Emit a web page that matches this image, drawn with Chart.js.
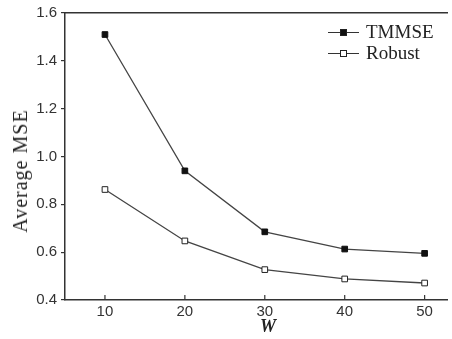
<!DOCTYPE html>
<html><head><meta charset="utf-8">
<script src="https://cdn.jsdelivr.net/npm/chart.js@4.4.0/dist/chart.umd.min.js"></script>
<style>
html,body{margin:0;padding:0;background:#fff;overflow:hidden}
#wrap{position:relative;width:452px;height:339px}
#c{position:absolute;left:0;top:0}
.yt{position:absolute;left:20px;top:171px;transform:translate(-50%,-50%) rotate(-90deg);font-family:"Liberation Serif",serif;font-size:20px;letter-spacing:1px;color:#222;white-space:nowrap;line-height:20px}
.xt{position:absolute;left:268px;top:326px;transform:translate(-50%,-50%);font-family:"Liberation Serif",serif;font-size:18px;font-weight:bold;font-style:italic;color:#222;line-height:18px}
.lg{position:absolute;left:328px;font-family:"Liberation Serif",serif;font-size:19px;color:#222;line-height:20px;height:20px}
.lg .ln{position:absolute;left:0;top:10px;width:31px;height:0;border-top:1.3px solid #333}
.lg .mk{position:absolute;left:12px;top:7px;width:5px;height:5px;border:1px solid #222}
.lg .tx{position:absolute;left:38px;top:0;white-space:nowrap}
</style></head>
<body><div id="wrap"><canvas id="c" width="452" height="339"></canvas>
<div class="yt">Average MSE</div>
<div class="xt">W</div>
<div class="lg" style="top:22px"><span class="ln"></span><span class="mk" style="background:#111"></span><span class="tx">TMMSE</span></div>
<div class="lg" style="top:43px"><span class="ln"></span><span class="mk" style="background:#fff"></span><span class="tx">Robust</span></div>
</div>
<script>
const W = [10, 20, 30, 40, 50];
const tmmse = [1.51, 0.94, 0.685, 0.613, 0.595];
const robust = [0.862, 0.647, 0.527, 0.488, 0.471];
const yTicks = [0.4, 0.6, 0.8, 1.0, 1.2, 1.4, 1.6];
const seriesNames = ['TMMSE', 'Robust'];

const pts = a => W.map((w, i) => ({x: w, y: a[i]}));

const inwardTicks = {
  id: 'inwardTicks',
  afterDraw(chart) {
    const s = chart.scales.x, ctx = chart.ctx, b = chart.chartArea.bottom;
    ctx.save(); ctx.strokeStyle = '#333'; ctx.lineWidth = 1.2;
    s.ticks.forEach((t, i) => {
      const px = s.getPixelForTick(i);
      ctx.beginPath(); ctx.moveTo(px, b); ctx.lineTo(px, b - 5); ctx.stroke();
    });
    ctx.restore();
  }
};

new Chart(document.getElementById('c'), {
  type: 'line',
  data: { datasets: [
    { label: seriesNames[0], data: pts(tmmse), borderColor: '#444', borderWidth: 1.3,
      pointStyle: 'rect', pointRadius: 4, pointBackgroundColor: '#111', pointBorderColor: '#111', pointBorderWidth: 1, tension: 0 },
    { label: seriesNames[1], data: pts(robust), borderColor: '#444', borderWidth: 1.3,
      pointStyle: 'rect', pointRadius: 4, pointBackgroundColor: '#fff', pointBorderColor: '#222', pointBorderWidth: 1, tension: 0 }
  ]},
  options: {
    responsive: false, animation: false,
    layout: { padding: 0 },
    plugins: { legend: { display: false }, tooltip: { enabled: false } },
    scales: {
      x: { type: 'linear', position: 'bottom', min: 5, max: 52.8,
        afterBuildTicks: s => { s.ticks = W.map(v => ({value: v})); },
        afterFit: s => { s.height = 39; },
        grid: { display: false, drawTicks: false, tickLength: 0 },
        border: { display: true, color: '#333', width: 1.5 },
        ticks: { padding: 3, color: '#333', font: { family: 'Liberation Sans', size: 15 } } },
      x2: { type: 'linear', position: 'top', min: 5, max: 52.8,
        afterFit: s => { s.height = 11; },
        grid: { display: false },
        border: { display: true, color: '#333', width: 1.5 },
        ticks: { display: false } },
      y: { type: 'linear', min: 0.4, max: 1.6,
        afterBuildTicks: s => { s.ticks = yTicks.map(v => ({value: v})); },
        afterFit: s => { s.width = 65; },
        grid: { drawOnChartArea: false, drawTicks: true, tickLength: 4, color: '#333', lineWidth: 1.2 },
        border: { display: true, color: '#333', width: 1.5 },
        ticks: { padding: 4, color: '#333', font: { family: 'Liberation Sans', size: 15 },
          callback: v => v.toFixed(1) } }
    }
  },
  plugins: [inwardTicks]
});
</script></body></html>
